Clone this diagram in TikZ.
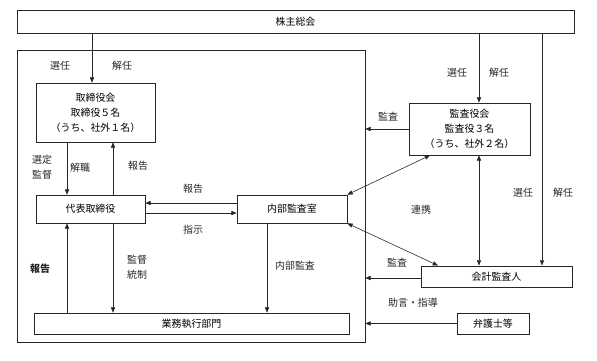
\documentclass[tikz,border=0pt]{standalone}
\usepackage{fontspec}
\setmainfont{Noto Sans CJK JP}
\usetikzlibrary{arrows.meta}
\newcommand{\px}{0.03cm}

\begin{document}
\begin{tikzpicture}[x=0.03cm, y=-0.03cm, font=\fontsize{8.5}{12.8}\selectfont,
    box/.style={draw=black!85, line width=0.6pt, inner sep=0pt, align=center},
    lbl/.style={inner sep=0pt, align=center, text=black!85},
    link/.style={draw=black!85, line width=0.5pt, -{Triangle[length=4.5pt,width=3.6pt]}},
    both/.style={draw=black!85, line width=0.5pt,
      {Triangle[length=4.5pt,width=3.6pt]}-{Triangle[length=4.5pt,width=3.6pt]}}]
  \useasboundingbox (0,0) rectangle (597,360);

  % boxes
  \node[box, line width=0.8pt, minimum width=557*\px, minimum height=23*\px] (top) at (295.5,21.5) {株主総会};
  \node[box, minimum width=348*\px, minimum height=292*\px] (frame) at (191,196) {};
  \node[box, minimum width=119*\px, minimum height=59*\px] (bod) at (95.5,112.5)
    {取締役会\\取締役５名\\（うち、社外１名）};
  \node[box, minimum width=109*\px, minimum height=28*\px] (rep) at (90.5,209) {代表取締役};
  \node[box, minimum width=110*\px, minimum height=28*\px] (audit) at (292,209) {内部監査室};
  \node[box, minimum width=315*\px, minimum height=21*\px] (exec) at (191.5,323.5) {業務執行部門};
  \node[box, minimum width=121*\px, minimum height=52*\px] (kansa) at (469.5,129)
    {監査役会\\監査役３名\\（うち、社外２名）};
  \node[box, line width=0.8pt, minimum width=151*\px, minimum height=21*\px] (ext) at (496.5,276.5) {会計監査人};
  \node[box, minimum width=72*\px, minimum height=21*\px] (lawyer) at (493,323.5) {弁護士等};

  % connectors
  \draw[link] (top.south -| 92,0) -- (bod.north -| 92,0);
  \draw[link] (bod.south -| 67,0) -- (rep.north -| 67,0);
  \draw[link] (rep.north -| 113,0) -- (bod.south -| 113,0);
  \draw[link] (audit.west |- 0,203) -- (rep.east |- 0,203);
  \draw[link] (rep.east |- 0,213) -- (audit.west |- 0,213);
  \draw[link] (exec.north -| 67,0) -- (rep.south -| 67,0);
  \draw[link] (rep.south -| 113,0) -- (exec.north -| 113,0);
  \draw[link] (audit.south -| 267,0) -- (exec.north -| 267,0);
  \draw[link] (top.south -| 479,0) -- (kansa.north -| 479,0);
  \draw[link] (kansa.west) -- (frame.east |- kansa.west);
  \draw[both] (audit.north east) -- (kansa.south -| 430,0);
  \draw[both] (audit.south east) -- (ext.north -| 438,0);
  \draw[both] (kansa.south -| 479,0) -- (ext.north -| 479,0);
  \draw[link] (top.south -| 542,0) -- (ext.north -| 542,0);
  \draw[link] (ext.west |- 0,278) -- (frame.east |- 0,278);
  \draw[link] (lawyer.west) -- (frame.east |- lawyer.west);

  % labels
  \node[lbl] (l1) at (60,66) {選任};
  \node[lbl] (l2) at (122,66) {解任};
  \node[lbl] (l3) at (42,167.5) {選定\\監督};
  \node[lbl] (l4) at (80,168) {解職};
  \node[lbl] (l5) at (138,166) {報告};
  \node[lbl] (l6) at (193,189) {報告};
  \node[lbl] (l7) at (193,230) {指示};
  \node[lbl] (l8) at (137,267.5) {監督\\統制};
  \node[lbl, font=\fontsize{8.5}{12.8}\selectfont\bfseries] (l9) at (40,269) {報告};
  \node[lbl] (l10) at (295,266) {内部監査};
  \node[lbl] (l11) at (457,73) {選任};
  \node[lbl] (l12) at (499,73) {解任};
  \node[lbl] (l13) at (388,117) {監査};
  \node[lbl] (l14) at (421,210) {連携};
  \node[lbl] (l15) at (523,193) {選任};
  \node[lbl] (l16) at (563,193) {解任};
  \node[lbl] (l17) at (397,263) {監査};
  \node[lbl] (l18) at (413,303) {助言・指導};
\end{tikzpicture}
\end{document}
